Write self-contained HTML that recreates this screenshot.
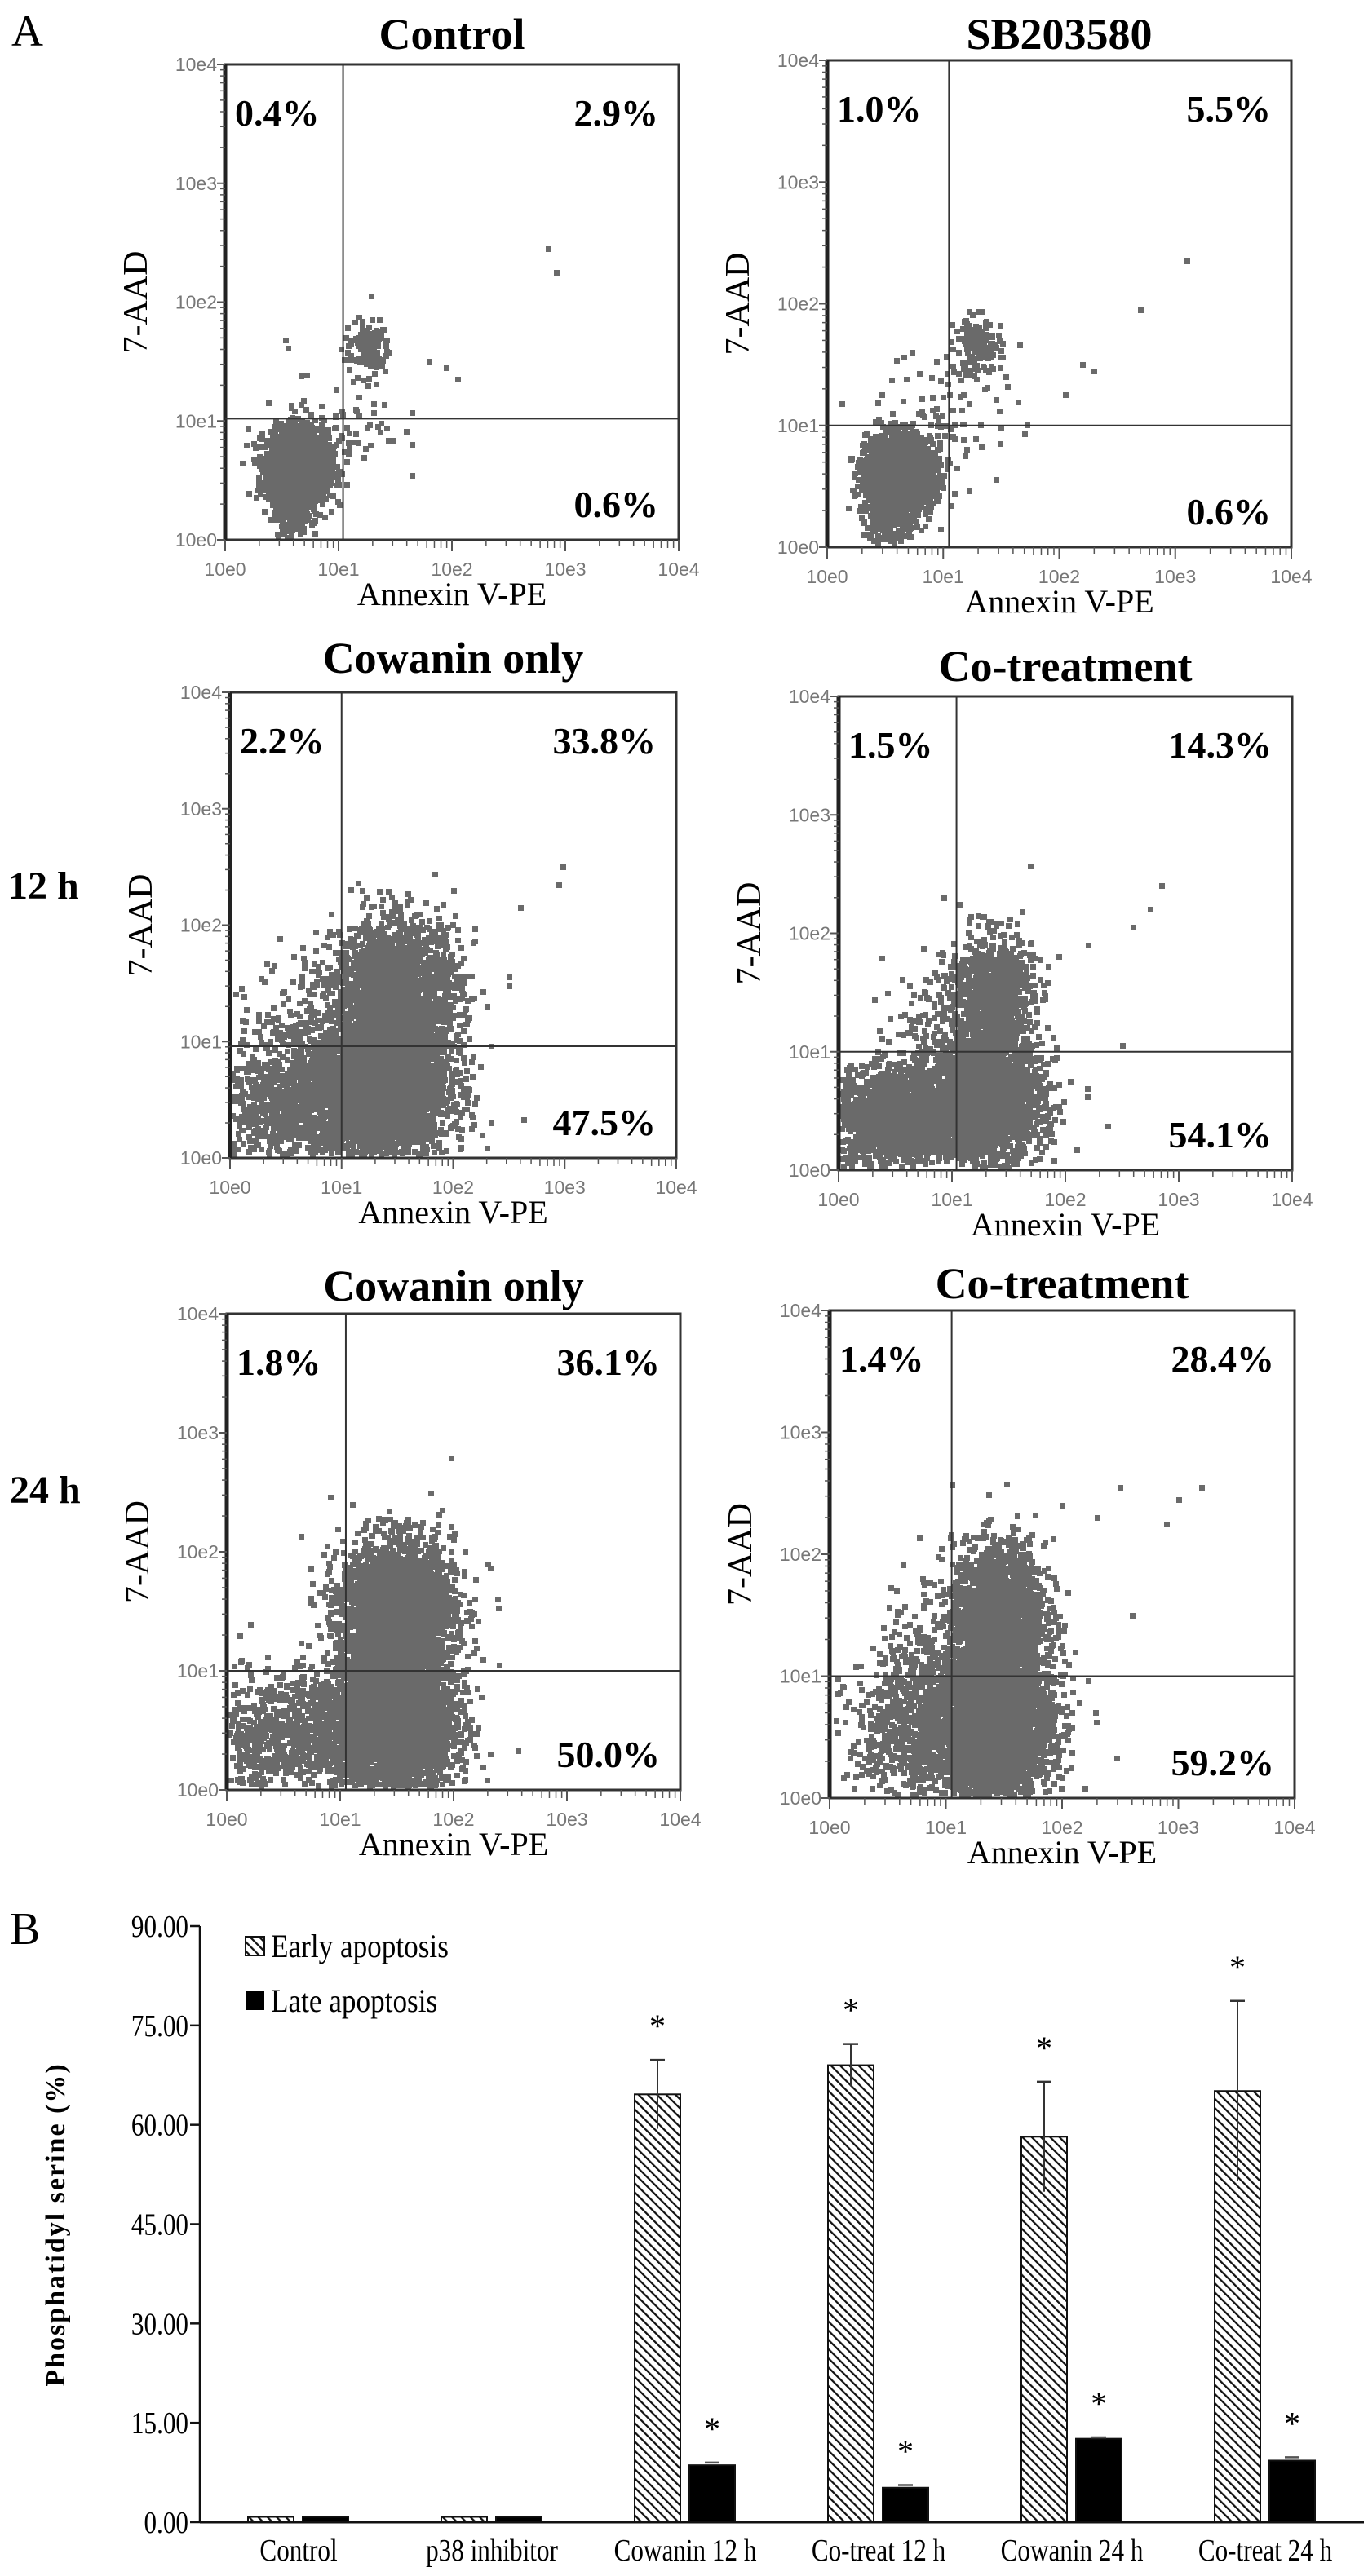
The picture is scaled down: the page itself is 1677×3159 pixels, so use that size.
<!DOCTYPE html>
<html><head><meta charset="utf-8">
<style>
html,body{margin:0;padding:0;background:#fff;}
svg{display:block;}
text{font-family:"Liberation Serif",serif;}
.tk{font-family:"Liberation Sans",sans-serif;fill:#777;font-size:23px;}
</style></head>
<body>
<svg id="fig" width="1677" height="3159" viewBox="0 0 1677 3159" xmlns="http://www.w3.org/2000/svg">
<defs>
<pattern id="hatch" patternUnits="userSpaceOnUse" width="8" height="8" patternTransform="rotate(-45)">
<rect width="8" height="8" fill="#fff"/>
<line x1="0" y1="0" x2="0" y2="8" stroke="#111" stroke-width="4.5"/>
</pattern>
</defs>
<text x="14" y="56" font-size="54">A</text>
<text x="10" y="1102" font-size="48" font-weight="bold">12 h</text>
<text x="12" y="1843" font-size="48" font-weight="bold">24 h</text>
<text x="12" y="2384" font-size="56">B</text>
<g id="flow"></g>
<g id="bars"></g>
</svg>
<script>
// ===== Flow cytometry panels data =====
const panelTitles = ["Control","SB203580","Cowanin only","Co-treatment","Cowanin only","Co-treatment"];
const quadUL = ["0.4%","1.0%","2.2%","1.5%","1.8%","1.4%"];
const quadUR = ["2.9%","5.5%","33.8%","14.3%","36.1%","28.4%"];
const quadLR = ["0.6%","0.6%","47.5%","54.1%","50.0%","59.2%"];
const gateX = [1.04,1.05,1.0,1.04,1.05,1.05];   // log10 gate positions
const gateY = [1.02,1.0,0.96,1.0,1.0,1.0];
// clusters: [centerLogX, centerLogY, sdX, sdY, count]
const clusters = [
 [[0.64,0.62,0.13,0.15,2200],[1.25,1.62,0.1,0.12,120],[1.05,1.05,0.25,0.3,70],[0.62,0.22,0.1,0.1,150]],
 [[0.62,0.6,0.14,0.15,2300],[1.3,1.65,0.1,0.12,150],[1.05,1.1,0.3,0.3,90],[0.55,0.2,0.12,0.1,150]],
 [[1.35,0.6,0.3,0.3,3600],[1.5,1.45,0.28,0.3,1800],[0.45,0.45,0.3,0.28,800],[0.8,1.2,0.3,0.3,220]],
 [[0.5,0.45,0.28,0.2,1800],[1.3,0.6,0.25,0.25,2200],[1.35,1.5,0.18,0.25,900],[0.8,1.1,0.2,0.3,150]],
 [[1.5,0.6,0.25,0.3,3600],[1.5,1.5,0.25,0.3,2600],[0.8,0.5,0.3,0.25,800],[0.2,0.3,0.2,0.3,250]],
 [[1.4,0.6,0.25,0.3,3500],[1.45,1.5,0.2,0.3,1800],[0.75,0.5,0.3,0.3,700],[0.8,1.2,0.2,0.3,150]]
];
const outliers = [
 [[2.85,2.45],[2.92,2.25],[1.95,1.45],[2.05,1.35],[1.8,1.5]],
 [[3.1,2.35],[2.7,1.95],[2.2,1.5],[2.3,1.45],[2.05,1.25]],
 [[2.98,2.5],[2.95,2.35],[2.6,2.15],[2.0,2.3],[2.3,1.3]],
 [[2.85,2.4],[2.75,2.2],[2.6,2.05],[2.2,1.9],[2.5,1.05]],
 [[1.9,2.35],[2.4,1.05],[2.3,1.9],[2.1,2.0]],
 [[2.5,2.55],[3.2,2.55],[3.0,2.45],[2.9,2.25],[2.0,2.4],[2.3,2.3],[2.6,1.5]]
];
// layout (pixel boxes) - not data
const boxes = [[276,79,832,662],[1014,74,1583,671],[282,849,829,1420],[1028,854,1584,1435],[278,1611,834,2195],[1017,1607,1587,2205]];
const titleY = [60,60,825,835,1595,1592];

const NS="http://www.w3.org/2000/svg";
function mk(tag,attrs,parent){const e=document.createElementNS(NS,tag);for(const k in attrs)e.setAttribute(k,attrs[k]);parent.appendChild(e);return e;}
let seed=12345;
function rnd(){seed=(seed*1103515245+12345)%2147483648;return seed/2147483648;}
function gauss(){let u=rnd()||1e-9,v=rnd();return Math.sqrt(-2*Math.log(u))*Math.cos(2*Math.PI*v);}

const flow=document.getElementById('flow');
boxes.forEach((b,i)=>{
  const [L,T,R,B]=b, W=R-L, H=B-T;
  const sx=v=>L+v/4*W, sy=v=>B-v/4*H;
  const g=mk('g',{},flow);
  
  
  const t=mk('text',{x:(L+R)/2,y:titleY[i],'font-size':54,'font-weight':'bold','text-anchor':'middle'},g);
  
  
  t.textContent=panelTitles[i];
  const pts=mk('g',{fill:'#6a6a6a'},g);
  
  
  let d='';
  clusters[i].forEach(c=>{
    for(let k=0;k<c[4];k++){
      const lx=c[0]+gauss()*c[2], ly=c[1]+gauss()*c[3];
      if(lx<0.02||lx>3.98||ly<0.02||ly>3.98)continue;
      const px=Math.round(sx(lx)), py=Math.round(sy(ly));
      d+=`M${px-3} ${py-3}h7v7h-7z`;
    }
  });
  outliers[i].forEach(o=>{const px=Math.round(sx(o[0])),py=Math.round(sy(o[1]));d+=`M${px-3} ${py-3}h7v7h-7z`;});
  mk('path',{d:d},pts);
  mk('rect',{x:L,y:T,width:W,height:H,fill:'none',stroke:'#333','stroke-width':3},g);
  mk('line',{x1:L,y1:T,x2:L,y2:B,stroke:'#222','stroke-width':5},g);
  const q1=mk('line',{x1:sx(gateX[i]),y1:T,x2:sx(gateX[i]),y2:B,stroke:'#333','stroke-width':2},g);
  
  
  const q2=mk('line',{x1:L,y1:sy(gateY[i]),x2:R,y2:sy(gateY[i]),stroke:'#333','stroke-width':2},g);
  
  
  const a=mk('text',{x:L+12,y:T+75,'font-size':46,'font-weight':'bold'},g);
  
  
  a.textContent=quadUL[i];
  const bb=mk('text',{x:R-25,y:T+75,'font-size':46,'font-weight':'bold','text-anchor':'end'},g);
  
  
  bb.textContent=quadUR[i];
  const cc=mk('text',{x:R-25,y:B-28,'font-size':46,'font-weight':'bold','text-anchor':'end'},g);
  
  
  cc.textContent=quadLR[i];
  for(let dec=0;dec<=4;dec++){
    mk('line',{x1:sx(dec),y1:B,x2:sx(dec),y2:B+14,stroke:'#555','stroke-width':2},g);
    mk('line',{x1:L-10,y1:sy(dec),x2:L,y2:sy(dec),stroke:'#555','stroke-width':2},g);
    const tx=mk('text',{x:sx(dec),y:B+44,'text-anchor':'middle',class:'tk'},g);
    
    
    tx.textContent='10e'+dec;
    const ty=mk('text',{x:L-10,y:sy(dec)+8,'text-anchor':'end',class:'tk'},g);
    
    
    ty.textContent='10e'+dec;
    if(dec<4){for(let m=2;m<10;m++){const lv=dec+Math.log10(m);
      mk('line',{x1:sx(lv),y1:B,x2:sx(lv),y2:B+(m<6?8:10),stroke:'#555','stroke-width':1.5},g);
      mk('line',{x1:L-6,y1:sy(lv),x2:L,y2:sy(lv),stroke:'#555','stroke-width':1.5},g);}}
  }
  const xl=mk('text',{x:(L+R)/2,y:B+80,'font-size':40,'text-anchor':'middle'},g);
  
  
  xl.textContent='Annexin V-PE';
  const yl=mk('text',{x:0,y:0,'font-size':42,'text-anchor':'middle',transform:`translate(${L-96},${(T+B)/2}) rotate(-90)`},g);
  
  
  yl.textContent='7-AAD';
});

// ===== Bar chart data =====
const categories = ["Control","p38 inhibitor","Cowanin 12 h","Co-treat 12 h","Cowanin 24 h","Co-treat 24 h"];
const earlyVals = [0.8,0.8,64.6,69.0,58.2,65.1];
const earlyErr  = [0,0,5.2,3.2,8.3,13.6];
const lateVals  = [0.8,0.8,8.6,5.2,12.6,9.3];
const lateErr   = [0,0,0.4,0.4,0.2,0.5];
const earlySig  = [false,false,true,true,true,true];
const lateSig   = [false,false,true,true,true,true];
const yTicks    = [0,15,30,45,60,75,90];

const bars=document.getElementById('bars');
const X0=245, XR=1672, Y0=3093, YT=2362, YMAX=90;
const yS=v=>Y0-(v/YMAX)*(Y0-YT);
const gStart=i=>304+237*i;
const BW=56, LOFF=67;
mk('line',{x1:X0,y1:YT,x2:X0,y2:Y0,stroke:'#111','stroke-width':2.5},bars);
mk('line',{x1:X0,y1:Y0,x2:XR,y2:Y0,stroke:'#111','stroke-width':3},bars);
yTicks.forEach(v=>{
  mk('line',{x1:X0-12,y1:yS(v),x2:X0,y2:yS(v),stroke:'#111','stroke-width':2.5},bars);
  const t=mk('text',{x:0,y:0,'font-size':38,'text-anchor':'end',transform:`translate(${X0-14},${yS(v)+13}) scale(0.82,1)`},bars);
  
  
  t.textContent=v.toFixed(2);
});
const yt=mk('text',{x:0,y:0,'font-size':34,'font-weight':'bold','text-anchor':'middle','letter-spacing':'2',transform:`translate(79,2728) rotate(-90)`},bars);


yt.textContent='Phosphatidyl serine (%)';
function star(x,y){const s=mk('text',{x:x,y:y,'font-size':40,'text-anchor':'middle'},bars);
  
  
  s.textContent='*';}
categories.forEach((c,i)=>{
  const ex=gStart(i), lx=ex+LOFF;
  const eb=mk('rect',{x:ex,y:yS(earlyVals[i]),width:BW,height:Y0-yS(earlyVals[i]),fill:'url(#hatch)',stroke:'#111','stroke-width':2},bars);
  
  
  const lb=mk('rect',{x:lx,y:yS(lateVals[i]),width:BW,height:Y0-yS(lateVals[i]),fill:'#000',stroke:'#111','stroke-width':2},bars);
  
  
  if(earlyErr[i]>0){const cx=ex+BW/2,top=yS(earlyVals[i]+earlyErr[i]),bot=yS(earlyVals[i]-earlyErr[i]);
    mk('line',{x1:cx,y1:top,x2:cx,y2:bot,stroke:'#333','stroke-width':2},bars);
    mk('line',{x1:cx-9,y1:top,x2:cx+9,y2:top,stroke:'#333','stroke-width':2.5},bars);}
  if(lateErr[i]>0){const cx=lx+BW/2,top=yS(lateVals[i]+lateErr[i]);
    mk('line',{x1:cx-9,y1:top,x2:cx+9,y2:top,stroke:'#555','stroke-width':2.5},bars);}
  if(earlySig[i])star(ex+BW/2,yS(earlyVals[i]+earlyErr[i])-28);
  if(lateSig[i])star(lx+BW/2,yS(lateVals[i]+lateErr[i])-28);
  const cl=mk('text',{x:0,y:0,'font-size':38,'text-anchor':'middle',transform:`translate(${ex+62},3140) scale(0.82,1)`},bars);
  
  
  cl.textContent=c;
});
const lg=mk('g',{},bars);


mk('rect',{x:301,y:2375,width:23,height:23,fill:'url(#hatch)',stroke:'#111','stroke-width':2},lg);
mk('rect',{x:301,y:2442,width:23,height:23,fill:'#000'},lg);
const l1=mk('text',{x:0,y:0,'font-size':40,transform:'translate(332,2400) scale(0.88,1)'},lg);


l1.textContent='Early apoptosis';
const l2=mk('text',{x:0,y:0,'font-size':40,transform:'translate(332,2467) scale(0.88,1)'},lg);


l2.textContent='Late apoptosis';
</script>
</body></html>
